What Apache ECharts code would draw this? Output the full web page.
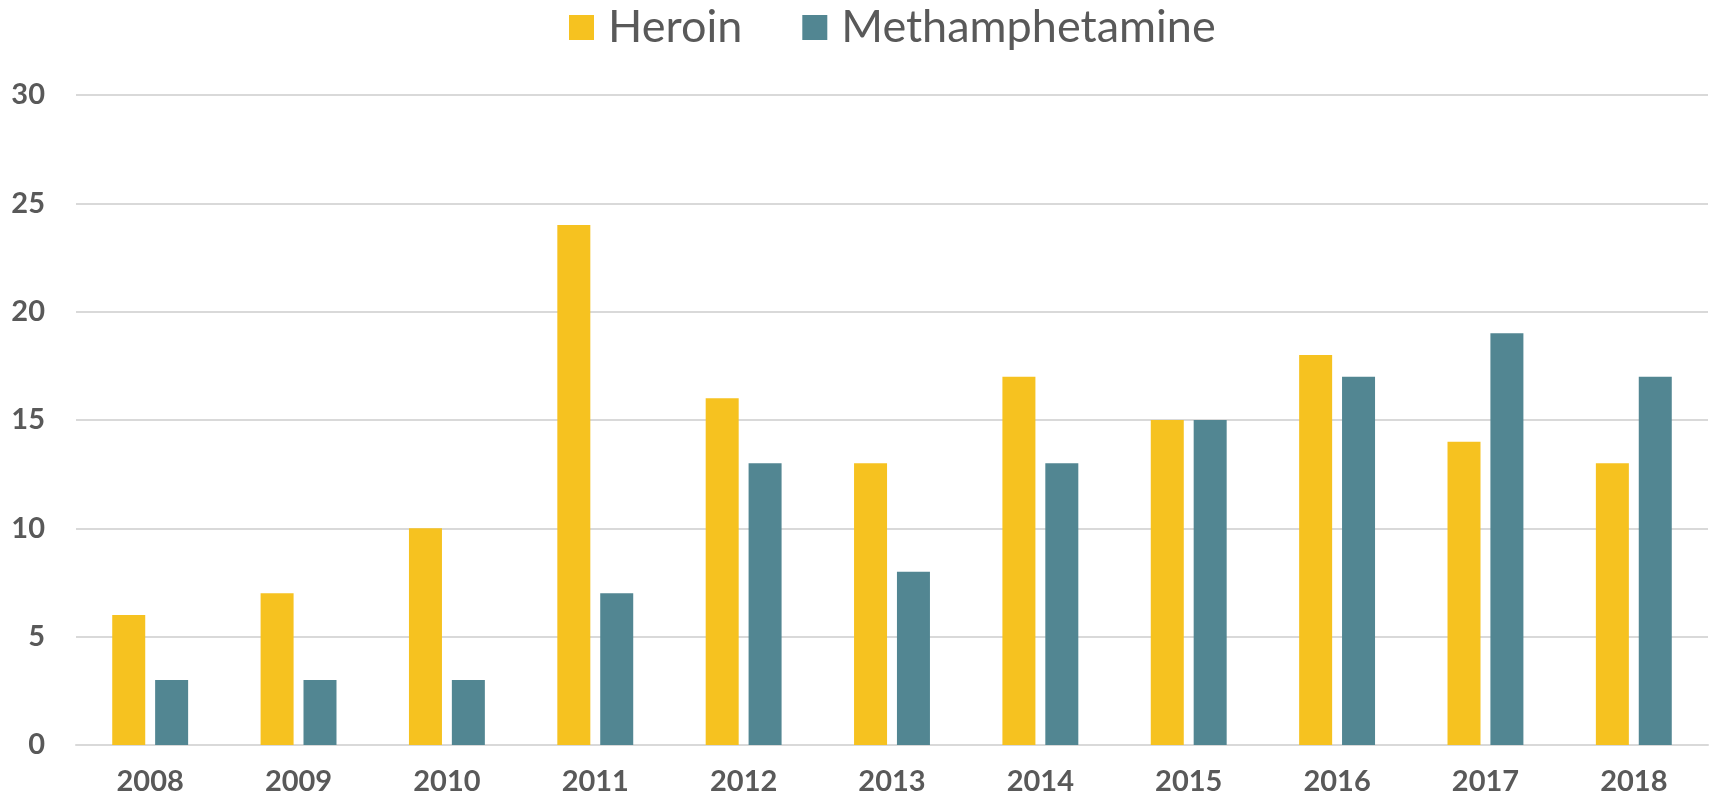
<!DOCTYPE html>
<html>
<head>
<meta charset="utf-8">
<script src="https://cdn.jsdelivr.net/npm/echarts@6/dist/echarts.min.js"></script>
<style>
  html, body { margin: 0; padding: 0; background: #fff; }
  #chart { width: 1713px; height: 800px; }
</style>
</head>
<body>
<div id="chart"></div>
<script>
const years = ['2008', '2009', '2010', '2011', '2012', '2013', '2014', '2015', '2016', '2017', '2018']
const heroin = [6, 7, 10, 24, 16, 13, 17, 15, 18, 14, 13]
const meth = [3, 3, 3, 7, 13, 8, 13, 15, 17, 19, 17]

const textColor = '#595959'
const fontFamily = 'Lato, "Open Sans", sans-serif'

const myChart = echarts.init(document.getElementById('chart'))
const option = {
  animation: false,
  textStyle: { fontFamily: fontFamily },
  legend: {
    left: 564,
    top: 0,
    itemWidth: 25,
    itemHeight: 25,
    itemGap: 60,
    icon: 'rect',
    textStyle: {
      color: textColor,
      fontSize: 45,
      padding: [0, 0, 0, 9]
    },
    data: ['Heroin', 'Methamphetamine']
  },
  grid: {
    left: 76,
    right: 5,
    top: 95,
    bottom: 55,
    outerBoundsMode: 'none'
  },
  xAxis: {
    type: 'category',
    data: years,
    axisTick: { show: false },
    axisLine: { lineStyle: { color: '#d9d9d9', width: 2 } },
    axisLabel: {
      color: textColor,
      fontSize: 29,
      fontWeight: 'bold',
      margin: 22
    }
  },
  yAxis: {
    type: 'value',
    min: 0,
    max: 30,
    interval: 5,
    axisLine: { show: false },
    axisTick: { show: false },
    splitLine: { lineStyle: { color: '#d9d9d9', width: 2 } },
    axisLabel: {
      color: textColor,
      fontSize: 29,
      fontWeight: 'bold',
      margin: 31
    }
  },
  series: [
    {
      name: 'Heroin',
      type: 'bar',
      data: heroin,
      barWidth: 33,
      barGap: '30%',
      itemStyle: { color: '#F6C220' }
    },
    {
      name: 'Methamphetamine',
      type: 'bar',
      data: meth,
      barWidth: 33,
      itemStyle: { color: '#528692' }
    }
  ]
}
option && myChart.setOption(option)
</script>
</body>
</html>
